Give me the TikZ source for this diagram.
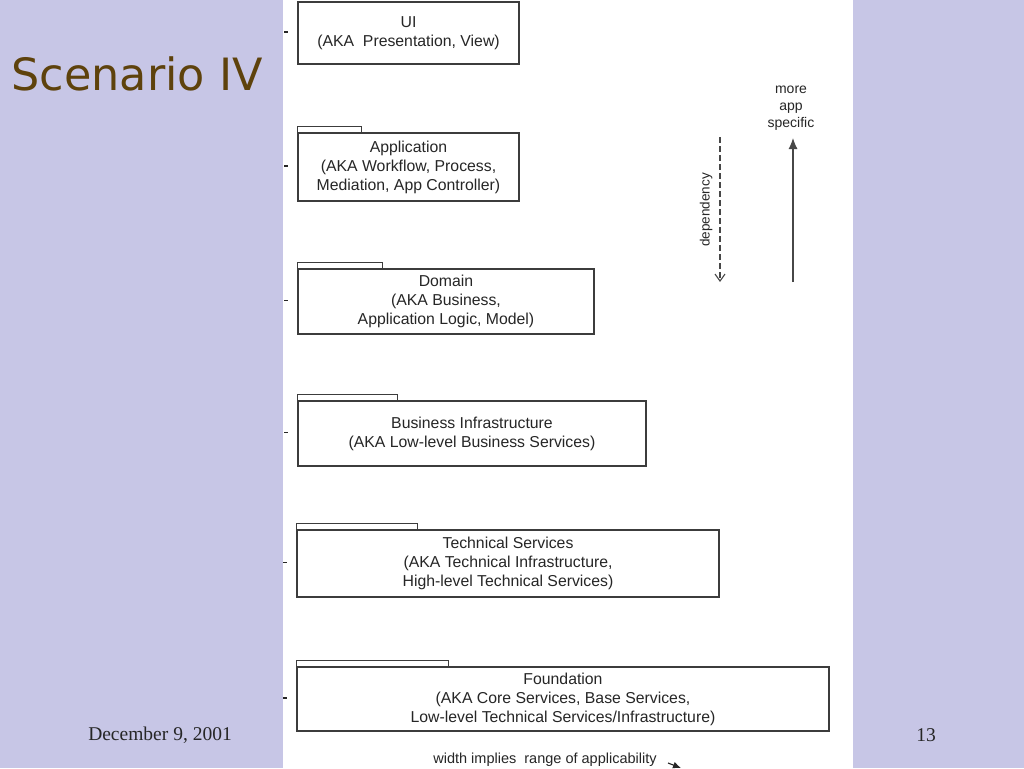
\documentclass[tikz,border=0pt]{standalone}
\usepackage{fontspec}
\setmainfont{Liberation Sans}
\newfontfamily\titlefont{DejaVu Sans}
\newfontfamily\footfont{Liberation Serif}
\usetikzlibrary{arrows.meta}
\definecolor{slidebg}{HTML}{C7C6E6}
\definecolor{titlebrown}{HTML}{5E420C}
\definecolor{scanink}{HTML}{262626}
\tikzset{
	layerbox/.style={draw=scanink!90, line width=1.3pt, minimum width=#1, inner sep=0pt, align=center, text=scanink, font=\fontsize{15.8}{19}\selectfont},
	tabline/.style={draw=scanink!90, line width=1.2pt},
	smalltext/.style={text=scanink, font=\fontsize{14}{17}\selectfont, align=center, inner sep=0pt}
}
\begin{document}
\begin{tikzpicture}[x=1pt, y=-1pt]
	% slide and scanned page:
	\fill[slidebg] (0,0) rectangle (1024,768);
	\useasboundingbox (0,0) rectangle (1024,768);
	\fill[white] (283,0) rectangle (853,768);
	\node[text=titlebrown, font=\titlefont\fontsize{44.5}{48}\selectfont, inner sep=0pt] (title) at (137,74){Scenario IV};
	\node[font=\footfont\fontsize{19.5}{22}\selectfont, text=black!85, inner sep=0pt] (date) at (160,735){December 9, 2001};
	\node[font=\footfont\fontsize{19.5}{22}\selectfont, text=black!85, inner sep=0pt] (pageno) at (926,735){13};
	% layers:
	\node[layerbox=221pt, minimum height=62pt](ui) at (408.5, 33){UI\\(AKA\ \ Presentation, View)};
	\node[layerbox=221pt, minimum height=68pt](app) at (408.5, 167){Application\\(AKA Workflow, Process,\\Mediation, App Controller)};
	\node[layerbox=296pt, minimum height=65pt](dom) at (446, 301.5){Domain\\(AKA Business,\\Application Logic, Model)};
	\node[layerbox=348pt, minimum height=65pt](binf) at (472, 433.5){Business Infrastructure\\(AKA Low-level Business Services)};
	\node[layerbox=422pt, minimum height=67pt](tech) at (508, 563.5){Technical Services\\(AKA Technical Infrastructure,\\High-level Technical Services)};
	\node[layerbox=532pt, minimum height=64pt](found) at (563, 699){Foundation\\(AKA Core Services, Base Services,\\Low-level Technical Services/Infrastructure)};
	% package tabs:
	\foreach \n/\w in {app/64, dom/85, binf/100, tech/121, found/152}
		\draw[tabline] (\n.north west) -- ++(0,-6) -- ++(\w,0) -- ++(0,6);
	% cut-off stubs at the left edge:
	\foreach \n in {ui, app, dom, binf, tech, found}
		\draw[scanink, line width=1.2pt] (\n.west) ++(-13,-1) -- ++(4,0);
	% dependency and specificity:
	\coordinate (depTop) at (720,137);
	\coordinate (depBot) at (720,282);
	\draw[scanink!85, line width=1.1pt, dash pattern=on 6pt off 3pt, -{Straight Barb[length=7pt, width=10pt]}] (depTop) -- (depBot);
	\node[smalltext, rotate=90, font=\fontsize{13.5}{15}\selectfont] (deplabel) at (706,210){dependency};
	\node[smalltext] (spec) at (791,108){more\\app\\specific};
	\coordinate (specBot) at (793,282);
	\coordinate (specTop) at (793,138);
	\draw[scanink!85, line width=1.1pt, -{Latex[length=11pt, width=9pt]}] (specBot) -- (specTop);
	% width note:
	\node[smalltext, font=\fontsize{14.5}{16}\selectfont] (widthnote) at (545,760){width implies\ \ range of applicability};
	\coordinate (wTail) at (668,763);
	\coordinate (wHead) at (681,768);
	\draw[scanink, line width=1.1pt, -{Latex[length=8pt, width=7pt]}] (wTail) -- (wHead);
\end{tikzpicture}
\end{document}
